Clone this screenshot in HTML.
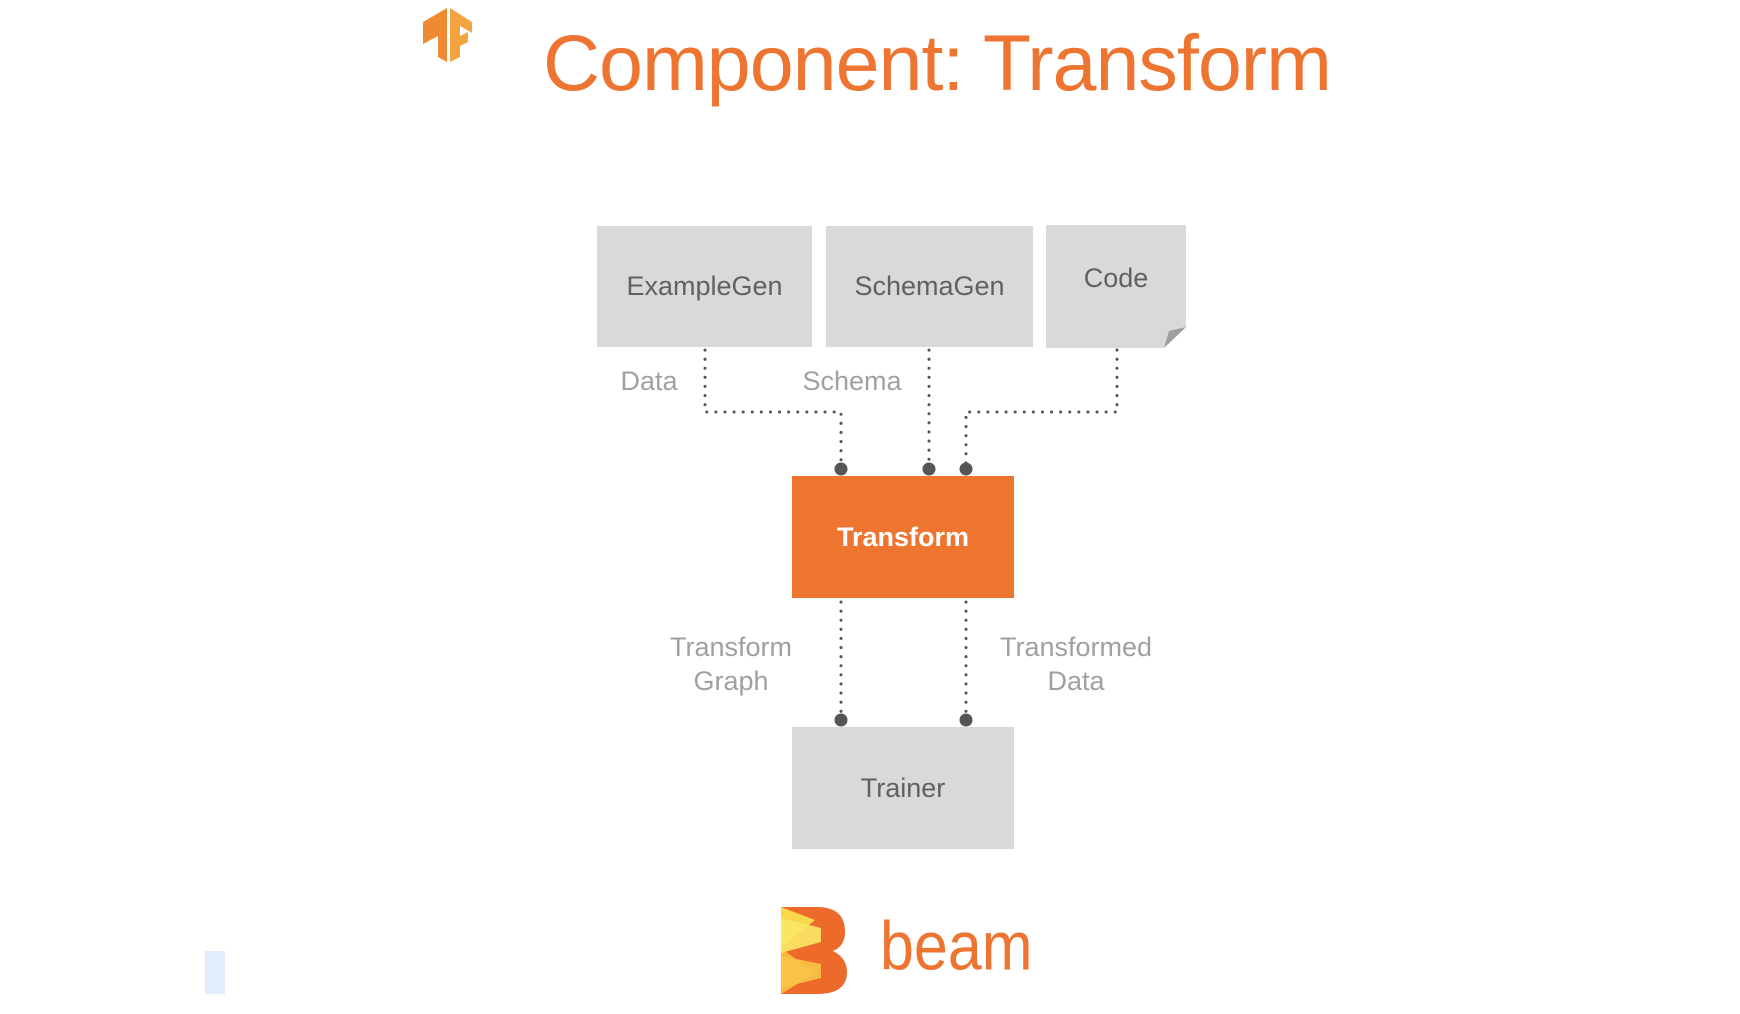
<!DOCTYPE html>
<html><head><meta charset="utf-8"><style>
html,body{margin:0;padding:0;background:#fff;}
body{width:1740px;height:1014px;position:relative;overflow:hidden;font-family:"Liberation Sans",sans-serif;}
.abs{position:absolute;}
.box{position:absolute;background:#d9d9d9;color:#616161;font-size:27px;display:flex;align-items:center;justify-content:center;}
.lbl{position:absolute;color:#a0a0a0;font-size:27px;text-align:center;line-height:34px;transform:translateX(-50%);white-space:nowrap;}
</style></head><body>
<svg class="abs" style="left:0;top:0" width="1740" height="1014">
  <polygon points="423,22 447,8 447,62 438,57 438,36 423,44" fill="#ef8a33"/>
  <polygon points="450,8 472,22 472,33 460,26 460,36 468,32 468,42 460,46 460,57 450,62" fill="#f4a340"/>
  <g transform="translate(-3,-2)">
  <g stroke="#555" stroke-width="3" stroke-dasharray="0.1 9" stroke-linecap="round" fill="none">
    <polyline points="708,352 708,414 844,414 844,468"/>
    <polyline points="932,352 932,468"/>
    <polyline points="1120,352 1120,414 969,414 969,468"/>
    <polyline points="844,604 844,718"/>
    <polyline points="969,604 969,718"/>
  </g>
  <g fill="#555">
    <circle cx="844" cy="471" r="6.5"/><circle cx="932" cy="471" r="6.5"/><circle cx="969" cy="471" r="6.5"/>
    <circle cx="844" cy="722" r="6.5"/><circle cx="969" cy="722" r="6.5"/>
  </g>
  </g>
  <rect x="205" y="951" width="20" height="43" fill="#e3ecfb"/>
  <g transform="translate(-3,-2)">
  <path d="M784,909 L820,909 Q848,909 848,934 Q848,948 836,953 Q850,960 850,974 Q850,996 820,996 L784,996 Z" fill="#ee6a2b"/>
  <polygon points="784,909 818,922 784,950" fill="#f9d84a"/>
  <polygon points="784,950 818,975 784,996" fill="#f6b93d"/>
  <polygon points="784,920 824,930 824,944 784,955" fill="#fbe866" opacity="0.9"/>
  <polygon points="784,958 824,966 824,980 784,990" fill="#f8c447" opacity="0.9"/>
  </g>
</svg>
<div class="abs" style="left:543px;top:15px;font-size:79px;color:#ee7431;white-space:nowrap;line-height:96px;letter-spacing:-1px;">Component: Transform</div>

<div class="box" style="left:597px;top:226px;width:215px;height:121px;">ExampleGen</div>
<div class="box" style="left:826px;top:226px;width:207px;height:121px;">SchemaGen</div>
<svg class="abs" style="left:1046px;top:225px" width="141" height="124">
  <polygon points="0,0 140,0 140,102 118,123 0,123" fill="#d9d9d9"/>
  <polygon points="140,102 118,123 123,106" fill="#9e9e9e"/>
  <text x="70" y="62" text-anchor="middle" font-family="Liberation Sans,sans-serif" font-size="27" fill="#616161">Code</text>
</svg>
<div class="box" style="left:792px;top:476px;width:222px;height:122px;background:#ed7530;color:#fff;font-weight:bold;">Transform</div>
<div class="box" style="left:792px;top:727px;width:222px;height:122px;">Trainer</div>

<div class="lbl" style="left:649px;top:364px;">Data</div>
<div class="lbl" style="left:852px;top:364px;">Schema</div>
<div class="lbl" style="left:731px;top:630px;">Transform<br>Graph</div>
<div class="lbl" style="left:1076px;top:630px;">Transformed<br>Data</div>

<div class="abs" style="left:880px;top:911px;font-size:61px;color:#ee7431;line-height:80px;transform:scaleY(1.12);transform-origin:0 100%;">beam</div>
</body></html>
